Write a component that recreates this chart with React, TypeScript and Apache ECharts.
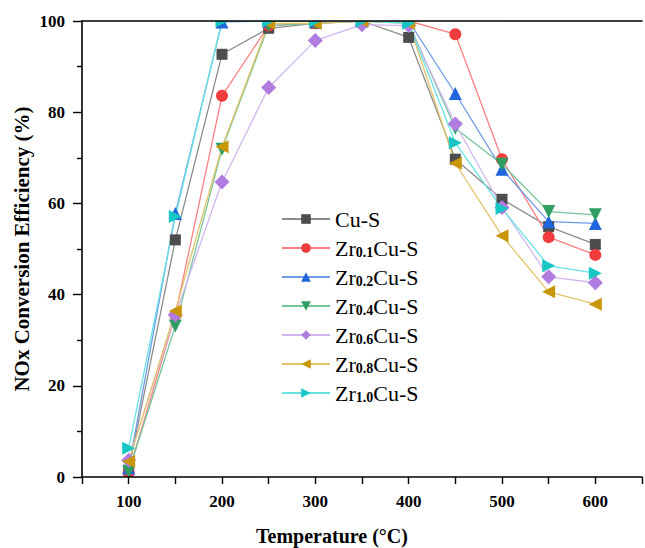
import React, { useEffect, useRef } from "react";
import * as echarts from "echarts";

const temps = [100, 150, 200, 250, 300, 350, 400, 450, 500, 550, 600];
const cuS = [1.5, 52.0, 92.7, 98.4, 99.5, 100, 96.4, 69.7, 60.9, 54.9, 51.0];
const zr01 = [1.0, 35.5, 83.6, 99.0, 99.5, 100, 100, 97.1, 69.7, 52.6, 48.7];
const zr02 = [2.0, 57.8, 99.8, 100, 100, 100, 100, 84.1, 67.5, 56.0, 55.6];
const zr04 = [1.2, 33.1, 71.9, 99.0, 99.5, 100, 99.5, 76.5, 68.6, 58.2, 57.5];
const zr06 = [3.7, 35.5, 64.7, 85.4, 95.7, 99.2, 99.0, 77.4, 59.1, 43.9, 42.6];
const zr08 = [3.4, 36.4, 72.4, 99.5, 99.5, 100, 99.5, 68.8, 52.9, 40.6, 37.9];
const zr10 = [6.3, 57.1, 100, 100, 100, 100, 99.5, 73.3, 58.9, 46.3, 44.7];

const seriesNames = ["Cu-S", "Zr0.1Cu-S", "Zr0.2Cu-S", "Zr0.4Cu-S", "Zr0.6Cu-S", "Zr0.8Cu-S", "Zr1.0Cu-S"];
const seriesValues = [cuS, zr01, zr02, zr04, zr06, zr08, zr10];
const markerColors = ["#4d4d4d", "#f03c3c", "#1f66dc", "#2e9e62", "#b07ce0", "#c9960a", "#18c6c6"];
const lineColors = ["#8c8c8c", "#f88080", "#6f9ae8", "#74c69a", "#d2b6f0", "#e2c468", "#66e2e2"];
const symbols = ["rect", "circle", "triangle", "triangle", "diamond", "triangle", "triangle"];
const rotations = [0, 0, 0, 180, 0, 90, -90];
const sizes = [11, 12, 13, 13, 15, 13, 13];

const xTicks = [100, 200, 300, 400, 500, 600];

const FONT = "'Liberation Serif', 'Times New Roman', serif";

function legendFormatter(name: string) {
  const m = name.match(/^Zr([\d.]+)(Cu-S)$/);
  if (!m) return "{n|" + name + "}";
  return "{n|Zr}{s|" + m[1] + "}{n|" + m[2] + "}";
}

export default function App() {
  const ref = useRef<HTMLDivElement>(null);
  useEffect(() => {
    if (!ref.current) return;
    const chart = echarts.init(ref.current, undefined, { renderer: "svg" });
    const series = seriesNames.map((name, i) => ({
      name,
      type: "line",
      data: temps.map((t, j) => [t, seriesValues[i][j]]),
      symbol: symbols[i],
      symbolSize: sizes[i],
      symbolRotate: rotations[i],
      showAllSymbol: true,
      itemStyle: { color: markerColors[i] },
      lineStyle: { color: lineColors[i], width: 1.3 },
      emphasis: { disabled: true },
    }));
    chart.setOption({
      animation: false,
      grid: { left: 82, top: 21, right: 0, bottom: 71, containLabel: false },
      legend: {
        left: 276,
        top: 203,
        orient: "vertical",
        itemWidth: 48,
        itemHeight: 12,
        itemGap: 7,
        data: seriesNames,
        formatter: legendFormatter,
        textStyle: {
          color: "#000",
          fontFamily: FONT,
          fontWeight: "normal",
          fontSize: 22,
          rich: {
            n: { fontSize: 22, fontFamily: FONT, fontWeight: "normal", color: "#000", lineHeight: 22, verticalAlign: "bottom" },
            s: { fontSize: 14, fontWeight: "bold", fontFamily: FONT, color: "#000", lineHeight: 22, verticalAlign: "bottom" },
          },
        },
      },
      xAxis: [
        {
          type: "value",
          z: 10,
          min: 50,
          max: 650,
          interval: 50,
          axisLine: { show: true, lineStyle: { color: "#000", width: 1.6 } },
          axisTick: { show: true, inside: false, length: 7, lineStyle: { color: "#000", width: 1.4 } },
          splitLine: { show: false },
          axisLabel: {
            margin: 16,
            color: "#000",
            fontSize: 17,
            fontWeight: "bold",
            fontFamily: FONT,
            formatter: (v: number) => (xTicks.includes(v) ? String(v) : ""),
          },
        },
        {
          type: "value",
          z: 10,
          position: "top",
          min: 50,
          max: 650,
          interval: 50,
          axisLine: { show: true, onZero: false, lineStyle: { color: "#000", width: 1.6 } },
          axisTick: { show: false },
          axisLabel: { show: false },
          splitLine: { show: false },
        },
      ],
      yAxis: {
        type: "value",
        z: 10,
        min: 0,
        max: 100,
        interval: 20,
        axisLine: { show: true, lineStyle: { color: "#000", width: 1.6 } },
        axisTick: { show: true, inside: false, length: 9, lineStyle: { color: "#000", width: 1.4 } },
        minorTick: { show: true, splitNumber: 2, length: 5, lineStyle: { color: "#000", width: 1.4 } },
        splitLine: { show: false },
        axisLabel: {
          margin: 17,
          color: "#000",
          fontSize: 17,
          fontWeight: "bold",
          fontFamily: FONT,
        },
      },
      graphic: [
        {
          type: "rect",
          z: 5,
          shape: { x: 83, y: 0, width: 570, height: 21 },
          style: { fill: "#fff" },
          silent: true,
        },
        {
          type: "rect",
          z: 5,
          shape: { x: 83, y: 477, width: 570, height: 14 },
          style: { fill: "#fff" },
          silent: true,
        },
        {
          type: "text",
          z: 20,
          x: 332,
          y: 536,
          style: {
            text: "Temperature (°C)",
            fontSize: 20,
            fontWeight: "bold",
            fontFamily: FONT,
            fill: "#000",
            align: "center",
            verticalAlign: "middle",
          },
        },
        {
          type: "text",
          z: 20,
          x: 22,
          y: 249,
          rotation: Math.PI / 2,
          style: {
            text: "NOx Conversion Efficiency (%)",
            fontSize: 21,
            fontWeight: "bold",
            fontFamily: FONT,
            fill: "#000",
            align: "center",
            verticalAlign: "middle",
          },
        },
      ],
      series,
    });
    return () => chart.dispose();
  }, []);
  return <div ref={ref} style={{ width: 645, height: 548, position: "absolute", left: 0, top: 0 }} />;
}
